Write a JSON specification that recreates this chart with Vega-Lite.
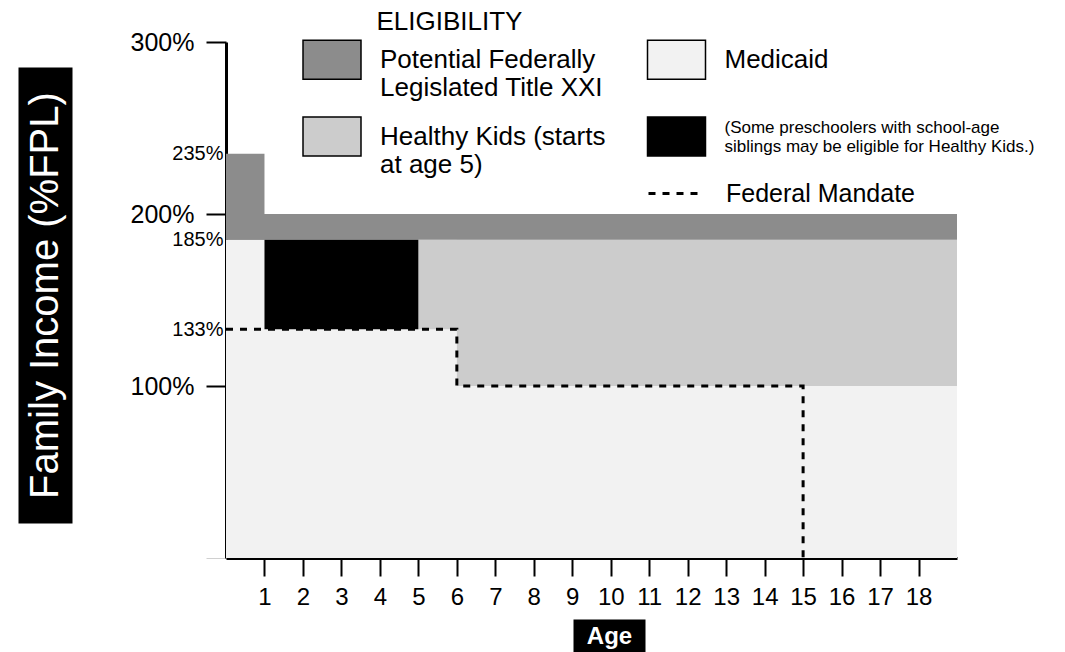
{
  "$schema": "https://vega.github.io/schema/vega-lite/v6.json",
  "width": 731,
  "height": 516,
  "autosize": {"type": "none"},
  "padding": {"left": 226, "top": 42, "right": 108, "bottom": 94},
  "background": "white",
  "config": {
    "font": "Liberation Sans",
    "view": {"stroke": null},
    "axis": {"labelColor": "black", "titleColor": "black", "grid": false}
  },
  "datasets": {
    "bands": [
      {"program": "Medicaid", "age_start": 0, "age_end": 1, "low": 0, "high": 185},
      {"program": "Medicaid", "age_start": 0, "age_end": 6, "low": 0, "high": 133},
      {"program": "Medicaid", "age_start": 0, "age_end": 19, "low": 0, "high": 100},
      {"program": "Healthy Kids (starts at age 5)", "age_start": 5, "age_end": 19, "low": 133, "high": 185},
      {"program": "Healthy Kids (starts at age 5)", "age_start": 6, "age_end": 19, "low": 100, "high": 185},
      {"program": "Potential Federally Legislated Title XXI", "age_start": 0, "age_end": 1, "low": 185, "high": 235},
      {"program": "Potential Federally Legislated Title XXI", "age_start": 0, "age_end": 19, "low": 185, "high": 200},
      {"program": "(Some preschoolers with school-age siblings may be eligible for Healthy Kids.)", "age_start": 1, "age_end": 5, "low": 133, "high": 185}
    ],
    "mandate": [
      {"line": "Federal Mandate", "age": 0, "pct": 133},
      {"line": "Federal Mandate", "age": 6, "pct": 100},
      {"line": "Federal Mandate", "age": 15, "pct": 0}
    ]
  },
  "layer": [
    {
      "data": {"name": "bands"},
      "mark": {"type": "rect"},
      "encoding": {
        "x": {
          "field": "age_start", "type": "quantitative",
          "scale": {"domain": [0, 19], "nice": false, "zero": false},
          "axis": {
            "orient": "bottom",
            "values": [1, 2, 3, 4, 5, 6, 7, 8, 9, 10, 11, 12, 13, 14, 15, 16, 17, 18],
            "title": null, "domainColor": "black", "domainWidth": 3,
            "tickColor": "black", "tickWidth": 2, "tickSize": 18,
            "labelFontSize": 24, "labelPadding": 9, "labelFlush": false,
            "labelOverlap": false, "labelBound": false
          }
        },
        "x2": {"field": "age_end"},
        "y": {
          "field": "low", "type": "quantitative",
          "scale": {"domain": [0, 300], "nice": false, "zero": false},
          "axis": {
            "orient": "left",
            "values": [0, 100, 133, 185, 200, 235, 300],
            "labelExpr": "datum.value == 0 ? '' : datum.value + '%'",
            "title": null, "domainColor": "black", "domainWidth": 3,
            "tickSize": 20,
            "tickColor": {"condition": [{"test": "datum.value == 0", "value": "#d0d0d0"}, {"test": "datum.value % 100 == 0", "value": "black"}], "value": "rgba(0,0,0,0)"},
            "tickWidth": {"condition": {"test": "datum.value == 0", "value": 1}, "value": 2},
            "labelFontSize": {"condition": {"test": "datum.value % 100 == 0", "value": 25}, "value": 20},
            "labelPadding": {"condition": {"test": "datum.value % 100 == 0", "value": 12}, "value": -17},
            "labelFlush": false, "labelOverlap": false, "labelBound": false
          }
        },
        "y2": {"field": "high"},
        "fill": {
          "field": "program", "type": "nominal",
          "scale": {
            "domain": [
              "Potential Federally Legislated Title XXI",
              "Healthy Kids (starts at age 5)",
              "Medicaid",
              "(Some preschoolers with school-age siblings may be eligible for Healthy Kids.)"
            ],
            "range": ["#8c8c8c", "#cccccc", "#f2f2f2", "#000000"]
          },
          "legend": {
            "orient": "none", "legendX": 85.5, "legendY": -33,
            "columns": 2, "columnPadding": 38.5, "rowPadding": 13,
            "padding": 0,
            "title": "ELIGIBILITY", "titleFontSize": 26, "titleFontWeight": "normal",
            "titleColor": "black", "titlePadding": 4,
            "symbolType": "M-1.487,-1L1.487,-1L1.487,1L-1.487,1Z",
            "symbolSize": 1521, "symbolStrokeColor": "black", "symbolStrokeWidth": 1.5,
            "labelOffset": 27.5, "labelFontSize": 26, "labelLimit": 700,
            "labelColor": "black", "labelBaseline": "middle",
            "labelExpr": "datum.value == 'Potential Federally Legislated Title XXI' ? ['Potential Federally', 'Legislated Title XXI'] : datum.value == 'Healthy Kids (starts at age 5)' ? ['Healthy Kids (starts', 'at age 5)'] : datum.value == 'Medicaid' ? ['Medicaid', ''] : ['(Some preschoolers with school-age', 'siblings may be eligible for Healthy Kids.)']",
            "encode": {
              "title": {"update": {"dx": {"value": 65}}},
              "labels": {"update": {
                "fontSize": [{"test": "indexof(datum.value, 'Some') >= 0", "value": 17}, {"value": 26}],
                "dy": [{"test": "indexof(datum.value, 'Some') >= 0", "value": -9}, {"value": 0}]
              }}
            }
          }
        }
      }
    },
    {
      "data": {"name": "mandate"},
      "mark": {"type": "line", "interpolate": "step-after", "color": "black", "strokeWidth": 3},
      "encoding": {
        "x": {"field": "age", "type": "quantitative", "axis": null},
        "y": {"field": "pct", "type": "quantitative", "axis": null},
        "strokeDash": {
          "field": "line", "type": "nominal",
          "scale": {"domain": ["Federal Mandate"], "range": [[7, 7]]},
          "legend": {
            "orient": "none", "legendX": 421, "legendY": 125, "padding": 0,
            "title": null, "symbolType": "stroke", "symbolSize": 2500,
            "symbolStrokeWidth": 3, "symbolStrokeColor": "black",
            "labelOffset": 26, "labelFontSize": 25, "labelColor": "black", "labelLimit": 400
          }
        }
      }
    },
    {
      "data": {"name": "mandate"},
      "mark": {"type": "point", "opacity": 0},
      "encoding": {
        "x": {
          "field": "age", "type": "quantitative",
          "axis": {
            "orient": "bottom", "offset": 78, "domainColor": "black", "domainWidth": 34,
            "domainDash": [72, 2000], "domainDashOffset": 1725,
            "ticks": false, "labels": false, "grid": false,
            "title": "Age", "titleColor": "white", "titleFontSize": 24, "titleFontWeight": "bold",
            "titleX": 383, "titleY": 0, "titleBaseline": "middle", "titleAlign": "center"
          }
        },
        "y": {
          "field": "pct", "type": "quantitative",
          "axis": {
            "orient": "left", "offset": 181, "domainColor": "black", "domainWidth": 54,
            "domainDash": [456, 2000], "domainDashOffset": 2421,
            "ticks": false, "labels": false, "grid": false,
            "title": "Family Income (%FPL)", "titleColor": "white", "titleFontSize": 40,
            "titleFontWeight": "normal", "titleAngle": 270,
            "titleX": 0, "titleY": 253, "titleBaseline": "middle", "titleAlign": "center"
          }
        }
      }
    }
  ],
  "resolve": {"axis": {"x": "independent", "y": "independent"}}
}
